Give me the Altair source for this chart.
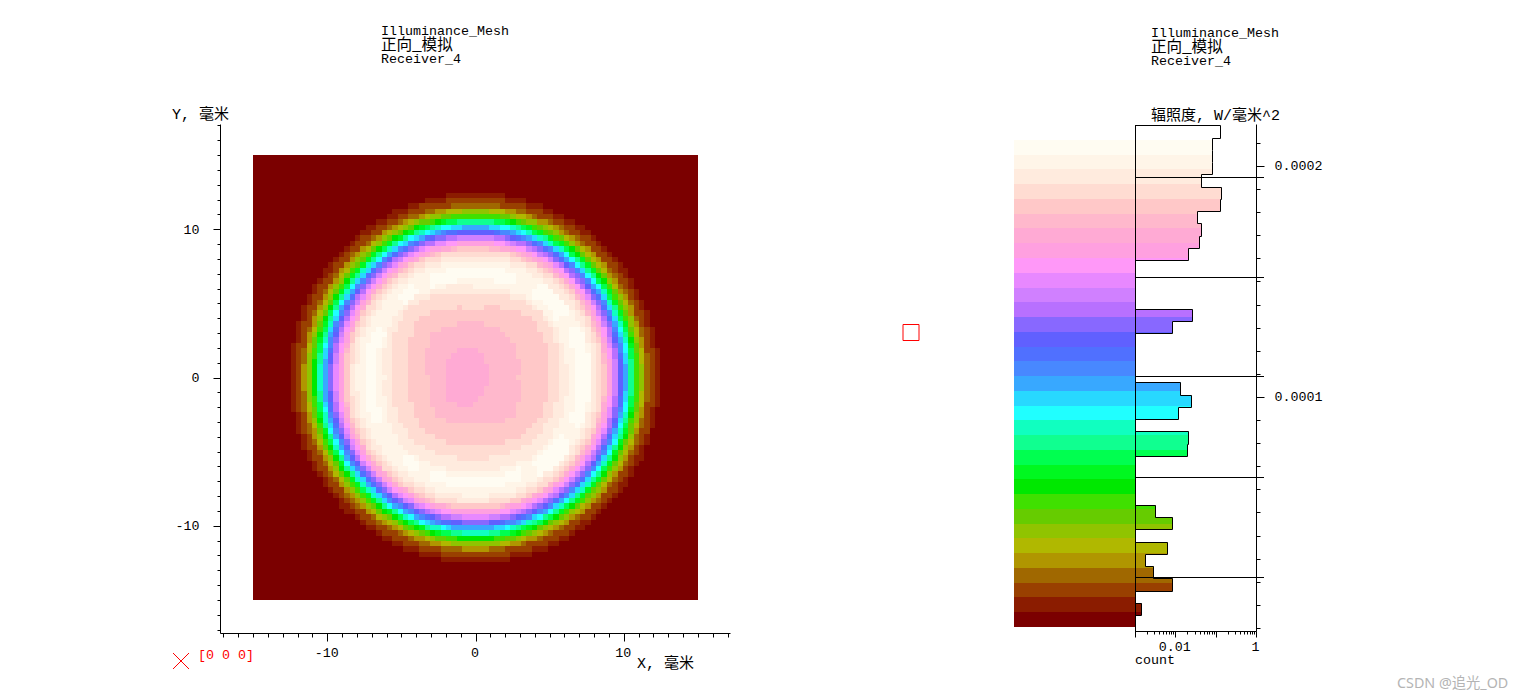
import altair as alt
import numpy as np
import pandas as pd

MONO = "Liberation Mono, Noto Sans CJK SC"
BLACK = "#000000"

# colour levels, darkest (lowest irradiance) first
level_colors = ["#7b0000","#8b1c00","#994000","#a06800","#b09600","#b0b800","#90c400","#66cc00",
                "#40e000","#00e800","#00f820","#00ff50","#10ff90","#10ffc0","#20ffff","#28d8ff",
                "#38a8ff","#4888ff","#5070ff","#6060ff","#8868ff","#b870ff","#d080ff","#e888ff",
                "#ff98f8","#ffa0e0","#ffaad4","#ffb8cc","#ffc8c8","#ffdcd2","#ffebde","#fff5e8","#fffcf2"]
band_base = 4.3e-7
band_step = 6.39e-6

# radial reading of the map, radii at 14.83 px per mm
rim_outer = [185,180,174,171.5,169,167,165,163,161.5,160,158.5,157,155.5,154,152.5,151,149.5,148,
             146.5,145,143,141,139.5,138,136,133.5,131.5,130,128,123.5,118.5,118.5]
sector_angles = [0,45,90,135,180,225,270,315,360]
contours = {
    26: [12,17,30,34,31,35,25,15,12],
    27: [43,52,55,61,46,54,44,54,43],
    28: [75,82,69,81,64,73,66,75,75],
    29: [85,92,85,96,83,88,80,85,85],
    30: [92,96,91,103,90,100,92,98,92],
}
# bright arcs: start angle, end angle, inner radius, outer radius
white_arcs = [(68,116,99,112),(123,133,100,113),(152,206,100,112),(228,238,100,113),
              (245,296,100,111),(304,326,100,118),(335,360,102,116),(0,27,102,116),(35,56,100,118)]
grid_n = 83
map_left, map_right, map_top, map_bottom = 253, 698, 155, 600
disc_cx, disc_cy = 475, 378
zero_x, zero_y, px_mm = 475.5, 377.5, 14.83

# histogram: counts per bin from top to bottom (None = empty)
hist_counts = [0.1314,0.0834,0.0834,0.0834,0.0421,0.139,0.1314,0.0336,0.0421,0.0392,0.0201,
               None,None,None,None,0.0252,0.0081,None,None,None,None,
               0.0128,0.0239,0.0114,None,0.0201,0.019,None,None,None,None,
               0.00308,0.0081,None,0.0061,0.00175,0.00275,0.0081,None,0.00139,None]
hist_top = 2.176e-4
hist_bin = 5.3e-6
hist_lines = [1.954e-4,1.521e-4,1.089e-4,6.52e-5,2.19e-5]
y_ticks_right = [round(i*1e-5,5) for i in range(0,22)]
x_ticks_log = [a*10.0**e for e in (-3,-2,-1) for a in range(1,10)]
x_ticks_log = [float(f"{v:.3g}") for v in x_ticks_log]+[1.0]
xy_ticks_mm = list(range(-17,18))

# ---- map cells
ex = [round(map_left+i*(map_right-map_left)/grid_n) for i in range(grid_n+1)]
ey = [round(map_top+i*(map_bottom-map_top)/grid_n) for i in range(grid_n+1)]
def level_at(px,py):
    dx,dy = px-disc_cx, disc_cy-py
    r = float(np.hypot(dx,dy)); th = float(np.degrees(np.arctan2(dy,dx)))%360
    rim = sum(r<v for v in rim_outer)
    inner = 31
    for lv in (30,29,28,27,26):
        if r<np.interp(th,sector_angles,contours[lv]): inner = lv
    for a0,a1,r0,r1 in white_arcs:
        if a0<=th<=a1 and r0<=r<=r1: inner = 32
    return min(rim,inner)
rows=[]
for j in range(grid_n):
    start=0; prev=None
    for i in range(grid_n+1):
        lv = level_at((ex[i]+ex[i+1])/2,(ey[j]+ey[j+1])/2) if i<grid_n else None
        if lv!=prev:
            if prev is not None:
                rows.append(dict(x1=(ex[start]-zero_x)/px_mm,x2=(ex[i]-zero_x)/px_mm,
                                 y1=(zero_y-ey[j])/px_mm,y2=(zero_y-ey[j+1])/px_mm,c=level_colors[prev]))
            start=i; prev=lv
cells=pd.DataFrame(rows)

# ---- layout constants, page px
L_LEFT,L_TOP,L_W,L_H = 220,124,510,509
R_LEFT,R_W,R_H = 1135,121,507

def label(text,x,y,origin_x,size=13.33,color=BLACK,font=MONO,align="left"):
    return alt.Chart(pd.DataFrame({"t":[text]})).mark_text(
        align=align,baseline="middle",font=font,fontSize=size,color=color
    ).encode(text="t:N",x=alt.value(x-origin_x),y=alt.value(y-L_TOP))

def rule_px(x1,x2,y1,y2,origin_x,color=BLACK):
    return alt.Chart(pd.DataFrame({"a":[0]})).mark_rule(color=color,strokeWidth=1).encode(
        x=alt.value(x1-origin_x),x2=alt.value(x2-origin_x),y=alt.value(y1-L_TOP),y2=alt.value(y2-L_TOP))

# ---- left panel
xs = alt.Scale(domain=[(L_LEFT-zero_x)/px_mm,(L_LEFT+L_W-zero_x)/px_mm],nice=False,zero=False)
ys = alt.Scale(domain=[(zero_y-L_TOP-L_H)/px_mm,(zero_y-L_TOP)/px_mm],nice=False,zero=False)
major = "abs(datum.value)==10||datum.value==0"
heat = alt.Chart(cells).mark_rect(strokeWidth=0).encode(
    x=alt.X("x1:Q",scale=xs,axis=alt.Axis(values=xy_ticks_mm,title=None,grid=False,labelExpr=f"({major}) ? ''+datum.value : ''",
        labelFont=MONO,labelFontSize=13.33,labelColor=BLACK,labelPadding=4,labelOffset=-1,tickColor=BLACK,domainColor=BLACK,labelOverlap=False,labelFlush=False,
        tickSize={"condition":{"test":major,"value":8},"value":4})),
    x2="x2:Q",
    y=alt.Y("y1:Q",scale=ys,axis=alt.Axis(values=xy_ticks_mm,title=None,grid=False,labelExpr=f"({major}) ? ''+datum.value : ''",
        labelFont=MONO,labelFontSize=13.33,labelColor=BLACK,labelPadding=14,tickColor=BLACK,domainColor=BLACK,labelOverlap=False,labelFlush=False,
        tickSize={"condition":{"test":major,"value":7},"value":3})),
    y2="y2:Q",
    color=alt.Color("c:N",scale=None),
)
anchor = alt.Chart(pd.DataFrame({"a":[0]})).mark_point(opacity=0,size=1).encode(x=alt.value(8-L_LEFT+0.5),y=alt.value(8-L_TOP+0.5))
cross = alt.Chart(pd.DataFrame({"a":[0]})).mark_point(shape="M-1,-1L1,1M-1,1L1,-1",size=256,color="#ff0000",filled=False,strokeWidth=1,opacity=1).encode(
    x=alt.value(181-L_LEFT),y=alt.value(661-L_TOP))
square = alt.Chart(pd.DataFrame({"a":[0]})).mark_point(shape="square",size=256,color="#ff0000",filled=False,strokeWidth=1,opacity=1).encode(
    x=alt.value(911-L_LEFT),y=alt.value(332.5-L_TOP))
left = alt.layer(
    heat,anchor,cross,square,
    label("Illuminance_Mesh",381,31,L_LEFT),label("正向_模拟",381,45,L_LEFT,size=15.6),label("Receiver_4",381,59,L_LEFT),
    label("Y, 毫米",172,114,L_LEFT,size=15),label("X, 毫米",637,663,L_LEFT,size=15),
    label("[0 0 0]",198,655,L_LEFT,color="#ff0000"),
).properties(width=L_W,height=L_H)

# ---- right panel
Y0,Y1 = -1.3e-6,2.1818e-4
hx = alt.Scale(type="log",domain=[0.001,1],nice=False)
hy = alt.Scale(domain=[Y0,Y1],nice=False,zero=False)
def snap_y(v,off=0.0):
    px = round((Y1-v)/(Y1-Y0)*R_H)+off
    return Y1-px/R_H*(Y1-Y0)
def snap_x(v):
    px = round(R_W*(np.log10(v)+3)/3)+0.5
    return float(10**(px*3/R_W-3))
hx_axis = alt.Axis(values=x_ticks_log,title=None,grid=False,
    labelExpr="datum.value==0.01 ? '0.01' : datum.value==1 ? '1' : ''",labelFont=MONO,labelFontSize=13.33,labelColor=BLACK,
    labelPadding=2,labelOffset=-1,labelOverlap=False,labelFlush=False,tickColor=BLACK,domainColor=BLACK,
    tickSize={"condition":{"test":"datum.value==0.001||datum.value==0.01||datum.value==0.1||datum.value==1","value":6},"value":3})
hy_axis = alt.Axis(orient="right",values=y_ticks_right,title=None,grid=False,
    labelExpr="abs(datum.value-0.0001)<1e-7 ? '0.0001' : abs(datum.value-0.0002)<1e-7 ? '0.0002' : ''",
    labelFont=MONO,labelFontSize=13.33,labelColor=BLACK,labelPadding=10,labelOverlap=False,labelFlush=False,tickColor=BLACK,domainColor=BLACK,
    tickSize={"condition":{"test":"abs(datum.value-0.0001)<1e-7||abs(datum.value-0.0002)<1e-7","value":8},"value":4})
bands = pd.DataFrame([dict(y1=snap_y(band_base+i*band_step),y2=snap_y(band_base+(i+1)*band_step),c=c) for i,c in enumerate(level_colors)])
band_rect = alt.Chart(bands).mark_rect(strokeWidth=0).encode(
    x=alt.value(-R_W),x2=alt.value(0),
    y=alt.Y("y1:Q",scale=hy,axis=hy_axis),y2="y2:Q",color=alt.Color("c:N",scale=None))
fills=[]; path=[dict(s=0,x=snap_x(0.001),y=snap_y(hist_top,0.5))]
for i,cnt in enumerate(hist_counts):
    hi=hist_top-i*hist_bin; lo=hi-hist_bin
    v=snap_x(cnt) if cnt else snap_x(0.001)
    path += [dict(s=len(path),x=v,y=snap_y(hi,0.5)),dict(s=len(path)+1,x=v,y=snap_y(lo,0.5))]
    if cnt:
        for b in range(len(level_colors)):
            b1=band_base+b*band_step; b2=b1+band_step
            a,t=max(lo,b1),min(hi,b2)
            if t>a and snap_y(a)!=snap_y(t):
                fills.append(dict(x=v,x0=snap_x(0.001),y1=snap_y(a),y2=snap_y(t),c=level_colors[b]))
hist_fill = alt.Chart(pd.DataFrame(fills)).mark_rect(strokeWidth=0).encode(
    x=alt.X("x:Q",scale=hx,axis=hx_axis),
    x2="x0:Q",
    y=alt.Y("y1:Q",scale=hy,axis=hy_axis),
    y2="y2:Q",color=alt.Color("c:N",scale=None))
hist_line = alt.Chart(pd.DataFrame(path)).mark_line(color=BLACK,strokeWidth=1,interpolate="linear").encode(
    x=alt.X("x:Q",scale=hx,axis=hx_axis),y=alt.Y("y:Q",scale=hy,axis=hy_axis),order="s:Q")
hlines = alt.Chart(pd.DataFrame({"y":[snap_y(v,0.5) for v in hist_lines]})).mark_rule(color=BLACK,strokeWidth=1).encode(
    x=alt.value(0),x2=alt.value(R_W+8),y=alt.Y("y:Q",scale=hy,axis=hy_axis))
right = alt.layer(
    band_rect,hist_fill,hist_line,hlines,
    rule_px(R_LEFT+0.5,R_LEFT+0.5,125,636,R_LEFT),
    label("Illuminance_Mesh",1151,33,R_LEFT),label("正向_模拟",1151,47,R_LEFT,size=15.6),label("Receiver_4",1151,61,R_LEFT),
    label("辐照度, W/毫米^2",1151,115,R_LEFT,size=15),label("count",1135,660,R_LEFT),
    label("CSDN @追光_OD",1397,684,R_LEFT,size=14.3,color="#b4b4b4",font="Noto Sans, Noto Sans CJK SC"),
).properties(width=R_W,height=R_H)

chart = alt.hconcat(left,right,spacing=R_LEFT-L_LEFT-L_W,bounds="flush").properties(padding=0).configure_view(stroke=None)
chart.save("out.html", embed_options={"renderer": "svg", "actions": False})
